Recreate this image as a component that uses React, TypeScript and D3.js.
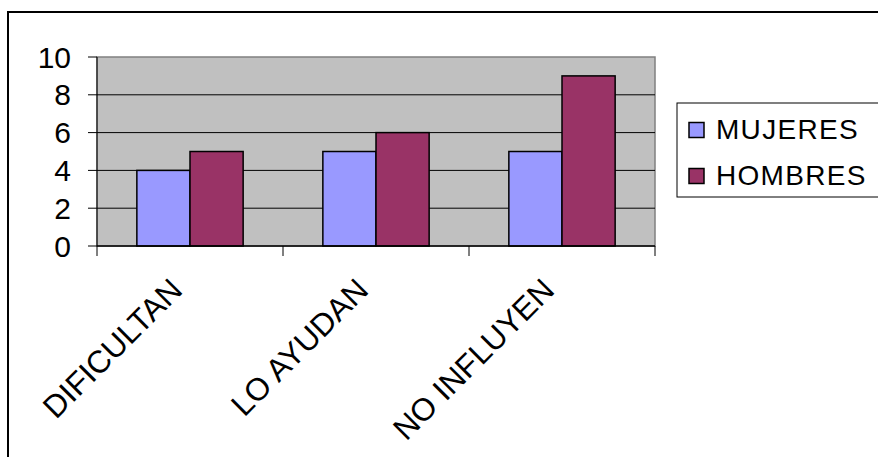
import React from "react";
import * as d3 from "d3";

const categories = ["DIFICULTAN", "LO AYUDAN", "NO INFLUYEN"];
const seriesNames = ["MUJERES", "HOMBRES"];
const mujeres = [4, 5, 5];
const hombres = [5, 6, 9];
const yTicks = [0, 2, 4, 6, 8, 10];
const seriesColors = ["#9999FF", "#993366"];

const W = 878;
const H = 457;
const FONT = "'Liberation Sans', Arial, Helvetica, sans-serif";

export default function App() {
  const plot = { left: 97, right: 655, top: 57, bottom: 246 };

  const x = d3
    .scaleBand<string>()
    .domain(categories)
    .range([plot.left, plot.right])
    .paddingInner(0)
    .paddingOuter(0);

  // gap width 150%: bars occupy 2 of 3.5 units in each category
  const inner = d3
    .scaleBand<string>()
    .domain(seriesNames)
    .range([0, x.bandwidth()])
    .paddingInner(0)
    .paddingOuter(0.75);

  const y = d3.scaleLinear().domain([0, 10]).range([plot.bottom, plot.top]);

  const series = [mujeres, hombres];
  const catTicks = [...categories.map((c) => x(c) as number), plot.right];

  return (
    <div style={{ position: "absolute", left: 0, top: 0 }}>
      <svg width={W} height={H} style={{ display: "block", background: "#fff" }}>
        {/* outer frame */}
        <rect x={8} y={12} width={W} height={H} fill="#fff" stroke="#000" strokeWidth={2} />

        {/* plot area */}
        <rect
          x={plot.left}
          y={plot.top}
          width={plot.right - plot.left}
          height={plot.bottom - plot.top}
          fill="#C0C0C0"
          stroke="#808080"
          strokeWidth={1.5}
        />

        {/* gridlines */}
        {yTicks
          .filter((t) => t > 0 && t < 10)
          .map((t) => (
            <line key={t} x1={plot.left} x2={plot.right} y1={y(t)} y2={y(t)} stroke="#000" strokeWidth={1} />
          ))}

        {/* bars */}
        {categories.map((c, ci) =>
          seriesNames.map((s, si) => {
            const bx = (x(c) as number) + (inner(s) as number);
            const v = series[si][ci];
            return (
              <rect
                key={c + s}
                x={bx}
                y={y(v)}
                width={inner.bandwidth()}
                height={y(0) - y(v)}
                fill={seriesColors[si]}
                stroke="#000"
                strokeWidth={1.5}
              />
            );
          })
        )}

        {/* value axis */}
        <line x1={plot.left} x2={plot.left} y1={plot.top} y2={plot.bottom} stroke="#000" strokeWidth={1} />
        {yTicks.map((t) => (
          <g key={t}>
            <line x1={plot.left - 9} x2={plot.left} y1={y(t)} y2={y(t)} stroke="#000" strokeWidth={1} />
            <text
              x={71}
              y={y(t)}
              textAnchor="end"
              dominantBaseline="central"
              fontFamily={FONT}
              fontSize={30}
              fill="#000"
            >
              {t}
            </text>
          </g>
        ))}

        {/* category axis */}
        <line x1={plot.left} x2={plot.right} y1={plot.bottom} y2={plot.bottom} stroke="#000" strokeWidth={1.5} />
        {catTicks.map((tx, i) => (
          <line key={i} x1={tx} x2={tx} y1={plot.bottom} y2={plot.bottom + 10} stroke="#000" strokeWidth={1} />
        ))}
        {categories.map((c) => {
          const cx = (x(c) as number) + x.bandwidth() / 2 - 6;
          const cy = 292;
          return (
            <text
              key={c}
              transform={`translate(${cx},${cy}) rotate(-45)`}
              textAnchor="end"
              fontFamily={FONT}
              fontSize={31.5}
              fill="#000"
            >
              {c}
            </text>
          );
        })}

        {/* legend */}
        <rect x={677} y={103} width={W} height={94} fill="#fff" stroke="#000" strokeWidth={1} />
        {seriesNames.map((s, i) => {
          const ly = 138.5 + i * 46;
          return (
            <g key={s}>
              <rect x={689} y={ly - 16} width={15} height={15} fill={seriesColors[i]} stroke="#000" strokeWidth={1.5} />
              <text x={716} y={ly} fontFamily={FONT} fontSize={28} letterSpacing={1.3} fill="#000">
                {s}
              </text>
            </g>
          );
        })}
      </svg>
    </div>
  );
}
